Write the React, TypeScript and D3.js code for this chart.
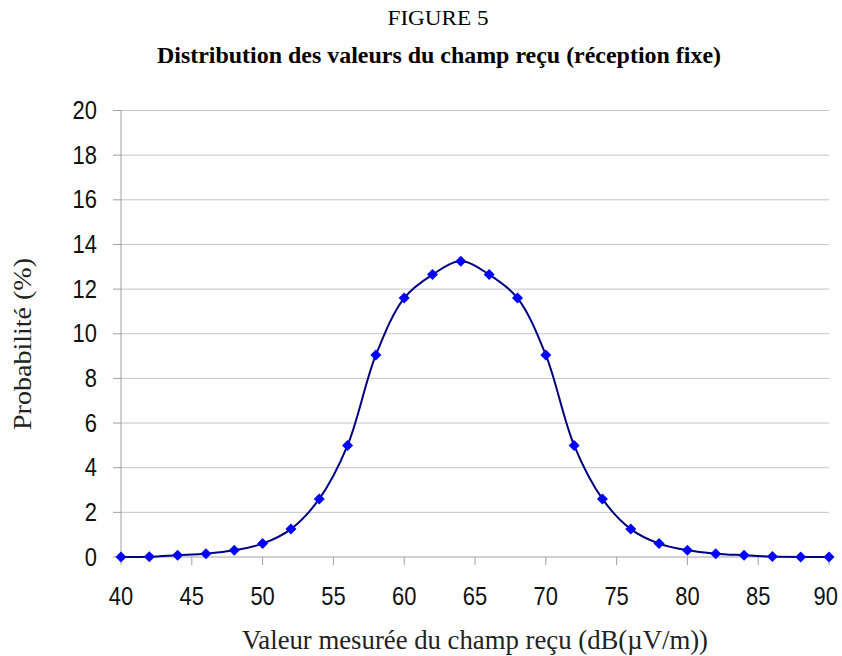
import * as d3 from 'd3';

const fieldValues = [40, 42, 44, 46, 48, 50, 52, 54, 56, 58, 60, 62, 64, 66, 68, 70, 72, 74, 76, 78, 80, 82, 84, 86, 88, 90];
const probabilities = [0, 0.01, 0.08, 0.15, 0.3, 0.6, 1.25, 2.6, 5.0, 9.05, 11.6, 12.65, 13.25, 12.65, 11.6, 9.05, 5.0, 2.6, 1.25, 0.6, 0.3, 0.15, 0.08, 0.02, 0, 0];
const xTicks = [40, 45, 50, 55, 60, 65, 70, 75, 80, 85, 90];
const yTicks = [0, 2, 4, 6, 8, 10, 12, 14, 16, 18, 20];

const WIDTH = 842;
const HEIGHT = 656;
const margin = { top: 110.5, right: 13, bottom: 99, left: 121 };

const serif = '"Liberation Serif", "Times New Roman", serif';
const sans = '"Liberation Sans", Arial, sans-serif';

// reference digits are a bit taller than they are wide
const digitWidth = 12.2;

export default function App() {
  const xScale = d3.scaleLinear().domain([40, 90]).range([margin.left, WIDTH - margin.right]);
  const yScale = d3.scaleLinear().domain([0, 20]).range([HEIGHT - margin.bottom, margin.top]);
  const points = fieldValues.map((x, i) => ({ x, y: probabilities[i] }));
  const line = d3.line<{ x: number; y: number }>()
    .x((p) => xScale(p.x))
    .y((p) => yScale(p.y))
    .curve(d3.curveCatmullRom.alpha(0.5));
  const diamond = 5.5;
  const bottom = yScale(0);

  return (
    <svg width={WIDTH} height={HEIGHT} style={{ position: 'absolute', left: 0, top: 0, background: '#fff' }}>
      <text x={438} y={25} textAnchor="middle" fontFamily={serif} fontSize={22} textLength={101} lengthAdjust="spacingAndGlyphs">FIGURE 5</text>
      <text x={439} y={63} textAnchor="middle" fontFamily={serif} fontWeight="bold" fontSize={23} textLength={564} lengthAdjust="spacingAndGlyphs">
        Distribution des valeurs du champ reçu (réception fixe)
      </text>

      {yTicks.map((t) => (
        <g key={`y-${t}`}>
          {t > 0 && <line x1={margin.left} x2={WIDTH - margin.right} y1={yScale(t)} y2={yScale(t)} stroke="#c4c4c4" strokeWidth={1} />}
          <line x1={margin.left - 8} x2={margin.left} y1={yScale(t)} y2={yScale(t)} stroke="#a0a0a0" strokeWidth={1} />
          <text x={97} y={yScale(t) + 8.5} textAnchor="end" fontFamily={sans} fontSize={25} fill="#111"
            textLength={String(t).length * digitWidth} lengthAdjust="spacingAndGlyphs">{t}</text>
        </g>
      ))}

      <line x1={margin.left} x2={margin.left} y1={margin.top} y2={bottom} stroke="#a0a0a0" strokeWidth={1} />
      <line x1={margin.left} x2={WIDTH - margin.right} y1={bottom} y2={bottom} stroke="#a0a0a0" strokeWidth={1} />

      {xTicks.map((t) => {
        const w = String(t).length * digitWidth;
        const x = Math.min(xScale(t), WIDTH - 4 - w / 2);
        return (
          <g key={`x-${t}`}>
            <line x1={xScale(t)} x2={xScale(t)} y1={bottom} y2={bottom + 8} stroke="#a0a0a0" strokeWidth={1} />
            <text x={x} y={605} textAnchor="middle" fontFamily={sans} fontSize={25} fill="#111"
              textLength={w} lengthAdjust="spacingAndGlyphs">{t}</text>
          </g>
        );
      })}

      <path d={line(points) ?? undefined} fill="none" stroke="#000080" strokeWidth={2} />
      {points.map((p) => {
        const cx = xScale(p.x);
        const cy = yScale(p.y);
        return (
          <path
            key={p.x}
            d={`M${cx},${cy - diamond}L${cx + diamond},${cy}L${cx},${cy + diamond}L${cx - diamond},${cy}Z`}
            fill="#0000ff"
          />
        );
      })}

      <text
        transform={`translate(31,344) rotate(-90)`}
        textAnchor="middle"
        fontFamily={serif}
        fontSize={25}
        fill="#222"
        textLength={172}
        lengthAdjust="spacingAndGlyphs"
      >
        Probabilité (%)
      </text>
      <text x={475} y={649} textAnchor="middle" fontFamily={serif} fontSize={28} fill="#222" textLength={466} lengthAdjust="spacingAndGlyphs">
        Valeur mesurée du champ reçu (dB(µV/m))
      </text>
    </svg>
  );
}
